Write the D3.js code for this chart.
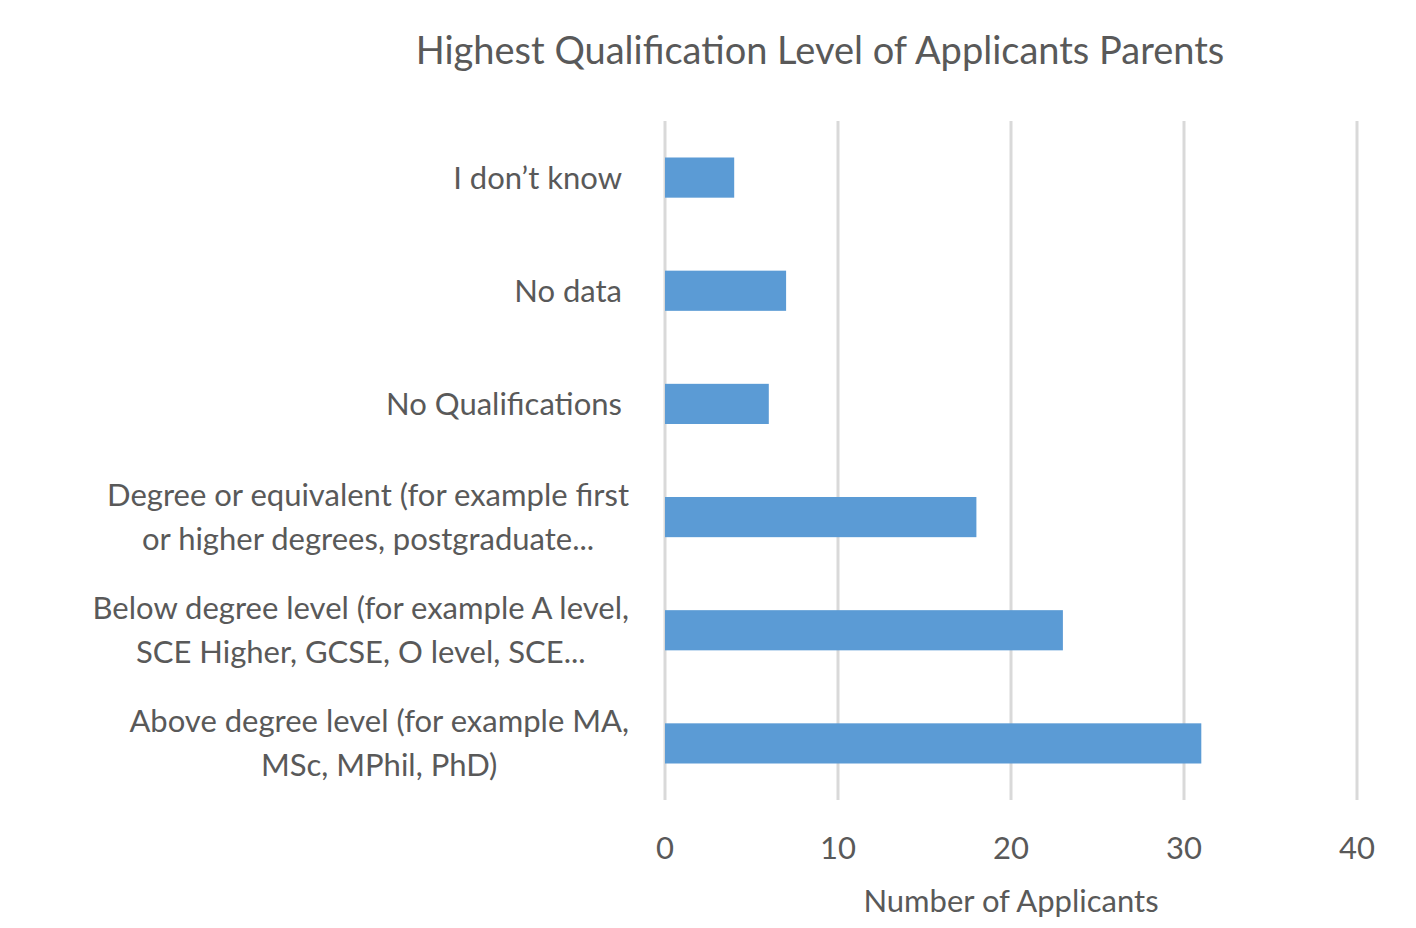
<!DOCTYPE html>
<html><head><meta charset="utf-8">
<script src="https://cdn.jsdelivr.net/npm/d3@7"></script>
<style>body{margin:0;background:#fff}</style></head>
<body><svg id="c" width="1416" height="928"></svg>
<script>
const categories = [
  ["I don’t know"],
  ["No data"],
  ["No Qualifications"],
  ["Degree or equivalent (for example first","or higher degrees, postgraduate..."],
  ["Below degree level (for example A level,","SCE Higher, GCSE, O level, SCE..."],
  ["Above degree level (for example MA,","MSc, MPhil, PhD)"]
];
const values = [4, 7, 6, 18, 23, 31];
const xTicks = [0, 10, 20, 30, 40];
const title = "Highest Qualification Level of Applicants Parents";
const xTitle = "Number of Applicants";

const svg = d3.select("#c");
const font = "Lato, 'Open Sans', sans-serif";
const col = "#595959";
const x = d3.scaleLinear().domain([0, 40]).range([665, 1357]);
const y = d3.scaleBand().domain(d3.range(categories.length)).range([121, 800]).paddingInner(0.645).paddingOuter(0.3225);

svg.append("g").selectAll("line").data(xTicks).join("line")
  .attr("x1", d => x(d)).attr("x2", d => x(d)).attr("y1", 121).attr("y2", 800)
  .attr("stroke", "#d9d9d9").attr("stroke-width", 3);

svg.append("g").selectAll("rect").data(values).join("rect")
  .attr("x", x(0)).attr("y", (d, i) => y(i)).attr("width", d => x(d) - x(0))
  .attr("height", y.bandwidth()).attr("fill", "#5b9bd5");

svg.append("g").selectAll("text").data(xTicks).join("text")
  .attr("x", d => x(d)).attr("y", 859).attr("text-anchor", "middle")
  .attr("font-family", font).attr("font-size", 31).attr("fill", col).text(d => d);

categories.forEach((lines, i) => {
  const cy = y(i) + y.bandwidth() / 2;
  const g = svg.append("g");
  if (lines.length === 1) {
    g.append("text").attr("x", 622).attr("y", cy + 11).attr("text-anchor", "end")
      .attr("font-family", font).attr("font-size", 31).attr("fill", col).text(lines[0]);
  } else {
    const ts = lines.map((l, k) => g.append("text").attr("y", cy - 22 + k * 44 + 11 - 0)
      .attr("font-family", font).attr("font-size", 31).attr("fill", col).attr("text-anchor", "middle").text(l));
    const w = d3.max(ts, t => t.node().getComputedTextLength());
    ts.forEach(t => t.attr("x", 629 - w / 2));
  }
});

svg.append("text").attr("x", 820).attr("y", 64).attr("text-anchor", "middle")
  .attr("font-family", font).attr("font-size", 38).attr("fill", col).text(title);
svg.append("text").attr("x", 1011).attr("y", 912).attr("text-anchor", "middle")
  .attr("font-family", font).attr("font-size", 31).attr("fill", col).text(xTitle);
</script></body></html>
